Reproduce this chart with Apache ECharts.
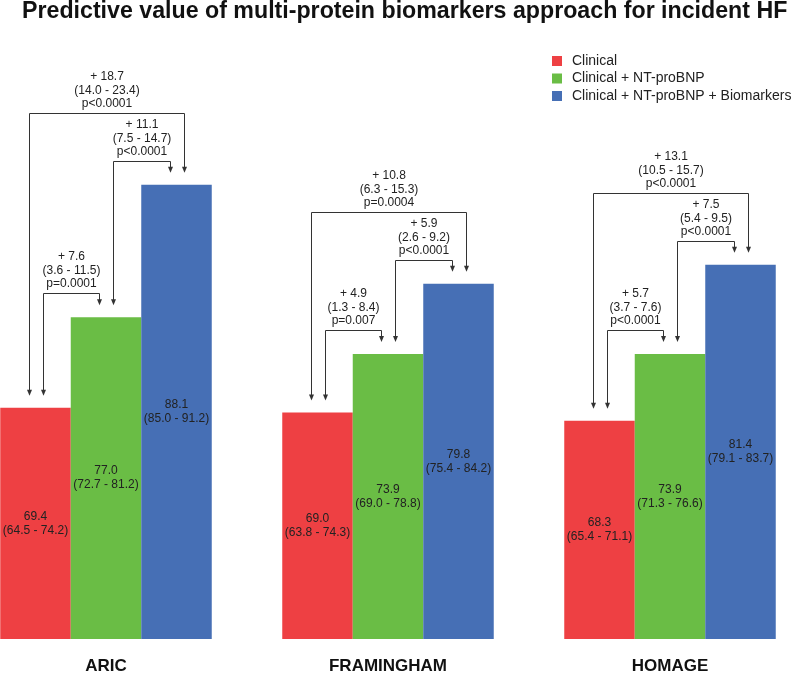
<!DOCTYPE html>
<html>
<head>
<meta charset="utf-8">
<script src="https://cdn.jsdelivr.net/npm/echarts@6/dist/echarts.min.js"></script>
<style>html,body{margin:0;padding:0;background:#fff}#c{width:800px;height:675px}</style>
</head>
<body>
<div id="c"></div>
<script>
// ---- data ----
const categories = ['ARIC', 'FRAMINGHAM', 'HOMAGE'];
const seriesNames = ['Clinical', 'Clinical + NT-proBNP', 'Clinical + NT-proBNP + Biomarkers'];
const clinical = [69.4, 69.0, 68.3];
const clinicalCI = [[64.5, 74.2], [63.8, 74.3], [65.4, 71.1]];
const ntprobnp = [77.0, 73.9, 73.9];
const ntprobnpCI = [[72.7, 81.2], [69.0, 78.8], [71.3, 76.6]];
const biomarkers = [88.1, 79.8, 81.4];
const biomarkersCI = [[85.0, 91.2], [75.4, 84.2], [79.1, 83.7]];
// comparisons: clinical -> +NT-proBNP
const diffRG = [7.6, 4.9, 5.7];
const ciRG = [[3.6, 11.5], [1.3, 8.4], [3.7, 7.6]];
const pRG = ['p=0.0001', 'p=0.007', 'p<0.0001'];
// +NT-proBNP -> +Biomarkers
const diffGB = [11.1, 5.9, 7.5];
const ciGB = [[7.5, 14.7], [2.6, 9.2], [5.4, 9.5]];
const pGB = ['p<0.0001', 'p<0.0001', 'p<0.0001'];
// clinical -> +Biomarkers
const diffRB = [18.7, 10.8, 13.1];
const ciRB = [[14.0, 23.4], [6.3, 15.3], [10.5, 15.7]];
const pRB = ['p<0.0001', 'p=0.0004', 'p<0.0001'];
const axisMin = 50, axisMax = 100;

const colors = ['#EE4043', '#6ABD45', '#466FB5'];
const FONT = '"Liberation Sans", Arial, Helvetica, sans-serif';
const values = [clinical, ntprobnp, biomarkers];
const cis = [clinicalCI, ntprobnpCI, biomarkersCI];
const BAR_FRAC = 0.25;

function f1(v) { return v.toFixed(1); }
function annText(d, ci, p) { return '+ ' + f1(d) + '\n(' + f1(ci[0]) + ' - ' + f1(ci[1]) + ')\n' + p; }

const chart = echarts.init(document.getElementById('c'), null, { renderer: 'canvas' });

const barSeries = seriesNames.map((name, k) => ({
  name: name,
  type: 'bar',
  data: values[k],
  barWidth: (BAR_FRAC * 100) + '%',
  barGap: '0%',
  clip: false,
  itemStyle: { color: colors[k] },
  label: {
    show: true,
    position: 'inside',
    color: '#222',
    fontSize: 12,
    lineHeight: 14,
    fontFamily: FONT,
    formatter: (p) => f1(values[k][p.dataIndex]) + '\n(' + f1(cis[k][p.dataIndex][0]) + ' - ' + f1(cis[k][p.dataIndex][1]) + ')'
  }
}));

function renderAnn(params, api) {
  const i = params.dataIndex;
  const cx = api.coord([i, axisMin])[0];
  const bw = api.size([1, 0])[0] * BAR_FRAC;
  const xs = [cx - bw, cx, cx + bw];
  const tops = values.map(v => api.coord([i, v[i]])[1]);
  const leg = 7, tipGap = 12, lineGap = 24, outerGap = 48;
  const px = x => Math.round(x) + 0.5;
  const children = [];
  const lineStyle = { stroke: '#333', lineWidth: 1, fill: null };
  function bracket(x1, x2, yLine, tip1, tip2, txt) {
    const a = px(x1), b = px(x2), y = Math.round(yLine) + 0.5;
    children.push({ type: 'polyline', shape: { points: [[a, tip1 - 4], [a, y], [b, y], [b, tip2 - 4]] }, style: lineStyle });
    [[a, tip1], [b, tip2]].forEach(([x, t]) => {
      children.push({ type: 'polygon', shape: { points: [[x - 2.5, t - 6], [x + 2.5, t - 6], [x, t]] }, style: { fill: '#333' } });
    });
    children.push({ type: 'text', style: { text: txt, x: (a + b) / 2, y: y - 3, align: 'center', verticalAlign: 'bottom', fontSize: 12, fontFamily: FONT, lineHeight: 13.5, fill: '#222' } });
  }
  const tipR = tops[0] - tipGap, tipG = tops[1] - tipGap, tipB = tops[2] - tipGap;
  const yA = Math.min(tops[0], tops[1]) - lineGap;
  const yB = Math.min(tops[1], tops[2]) - lineGap;
  const yC = yB - outerGap;
  bracket(xs[0] + leg, xs[1] - leg, yA, tipR, tipG, annText(diffRG[i], ciRG[i], pRG[i]));
  bracket(xs[1] + leg, xs[2] - leg, yB, tipG, tipB, annText(diffGB[i], ciGB[i], pGB[i]));
  bracket(xs[0] - leg, xs[2] + leg, yC, tipR, tipB, annText(diffRB[i], ciRB[i], pRB[i]));
  return { type: 'group', children: children };
}

chart.setOption({
  animation: false,
  title: {
    text: 'Predictive value of multi-protein biomarkers approach for incident HF',
    left: 22, top: 0, padding: 0,
    textStyle: { fontSize: 23.2, fontWeight: 'bold', color: '#111', fontFamily: FONT }
  },
  legend: {
    data: seriesNames,
    orient: 'vertical',
    left: 547, top: 49,
    icon: 'rect', itemWidth: 10, itemHeight: 10, itemGap: 3.5,
    textStyle: { fontSize: 14, color: '#222', fontFamily: FONT, padding: [0, 0, 0, 5] }
  },
  grid: { left: 106, right: 130, top: 43, bottom: 32, containLabel: false },
  xAxis: {
    type: 'category', data: categories, boundaryGap: false,
    axisLine: { show: false }, axisTick: { show: false },
    axisLabel: { fontSize: 17, fontWeight: 'bold', color: '#111', fontFamily: FONT, margin: 19 }
  },
  yAxis: { type: 'value', min: axisMin, max: axisMax, startValue: axisMin, show: false, splitLine: { show: false } },
  series: barSeries.concat([{
    type: 'custom',
    name: 'annotations',
    data: categories.map((c, i) => [i, axisMin]),
    encode: { x: 0, y: 1 },
    renderItem: renderAnn,
    clip: false,
    silent: true,
    z: 10
  }])
});
</script>
</body>
</html>
